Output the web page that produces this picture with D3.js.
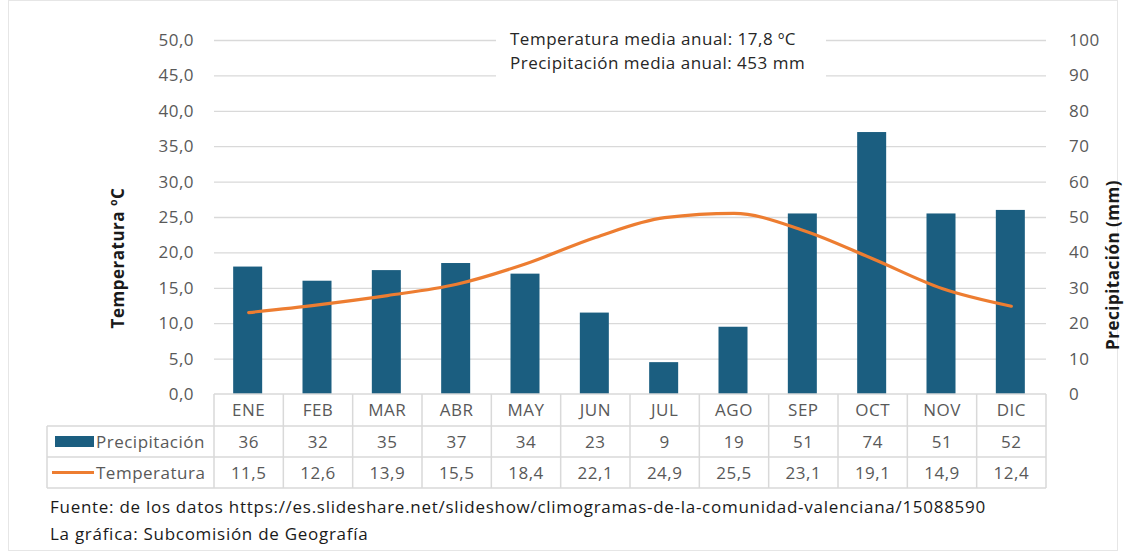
<!DOCTYPE html>
<html>
<head>
<meta charset="utf-8">
<script src="https://cdn.jsdelivr.net/npm/d3@7"></script>
<style>
  body { margin: 0; background: #fff; }
  svg text { font-family: "Open Sans", "Noto Sans", sans-serif; letter-spacing: 0.5px; }
  svg text.foot { letter-spacing: 0.72px; }
</style>
</head>
<body>
<div id="chart"></div>
<script>
var months = ['ENE', 'FEB', 'MAR', 'ABR', 'MAY', 'JUN', 'JUL', 'AGO', 'SEP', 'OCT', 'NOV', 'DIC'];
var precipitacion = [36, 32, 35, 37, 34, 23, 9, 19, 51, 74, 51, 52];
var temperatura = [11.5, 12.6, 13.9, 15.5, 18.4, 22.1, 24.9, 25.5, 23.1, 19.1, 14.9, 12.4];
var tempTicks = [0, 5, 10, 15, 20, 25, 30, 35, 40, 45, 50];
var precTicks = [0, 10, 20, 30, 40, 50, 60, 70, 80, 90, 100];
var notes = ['Temperatura media anual: 17,8 ºC', 'Precipitación media anual: 453 mm'];
var footer = ['Fuente: de los datos https://es.slideshare.net/slideshow/climogramas-de-la-comunidad-valenciana/15088590',
              'La gráfica: Subcomisión de Geografía'];

var width = 1126, height = 551;
var margin = { top: 40, left: 214, right: 1046, bottom: 394 };
var fs = 17;

var svg = d3.select('#chart').append('svg')
        .attr('width', width)
        .attr('height', height);

// outer frame
svg.append('rect')
        .attr('x', 8.5).attr('y', 0.5)
        .attr('width', width - 17).attr('height', height - 1)
        .attr('fill', 'none').attr('stroke', '#e6e6e6');

var x = d3.scaleBand().domain(months).range([margin.left, margin.right]);
var yT = d3.scaleLinear().domain([0, 50]).range([margin.bottom, margin.top]);
var yP = d3.scaleLinear().domain([0, 100]).range([margin.bottom, margin.top]);

// gridlines
svg.append('g')
        .attr('class', 'grid')
        .attr('transform', 'translate(' + margin.left + ',0)')
        .call(d3.axisLeft(yT).tickValues(tempTicks.slice(1))
                .tickSize(-(margin.right - margin.left))
                .tickFormat(''))
        .call(function (g) {
                g.select('.domain').remove();
                g.selectAll('line').attr('stroke', '#d9d9d9').attr('stroke-width', 1.3);
        });

// left axis labels
svg.append('g')
        .attr('transform', 'translate(' + (margin.left - 17) + ',0)')
        .call(d3.axisLeft(yT).tickValues(tempTicks).tickSize(0)
                .tickFormat(function (d) { return d.toFixed(1).replace('.', ','); }))
        .call(function (g) {
                g.select('.domain').remove();
                g.selectAll('text').attr('fill', '#595959').attr('font-size', fs)
                        .attr('font-family', '"Open Sans", sans-serif');
        });

// right axis labels
svg.append('g')
        .attr('transform', 'translate(' + (margin.right + 20) + ',0)')
        .call(d3.axisRight(yP).tickValues(precTicks).tickSize(0))
        .call(function (g) {
                g.select('.domain').remove();
                g.selectAll('text').attr('fill', '#595959').attr('font-size', fs)
                        .attr('font-family', '"Open Sans", sans-serif');
        });

// axis titles
svg.append('text')
        .attr('transform', 'translate(124,258) rotate(-90)')
        .attr('text-anchor', 'middle')
        .attr('font-size', fs).attr('font-weight', 'bold').attr('fill', '#1a1a1a')
        .text('Temperatura ºC');
svg.append('text')
        .attr('transform', 'translate(1119,265) rotate(-90)')
        .attr('text-anchor', 'middle')
        .attr('font-size', fs).attr('font-weight', 'bold').attr('fill', '#1a1a1a')
        .text('Precipitación (mm)');

// annotation box
svg.append('rect')
        .attr('x', 496).attr('y', 24).attr('width', 330).attr('height', 58)
        .attr('fill', '#fff');
svg.selectAll('.note').data(notes).enter().append('text')
        .attr('class', 'note')
        .attr('x', 510).attr('y', function (d, i) { return 45 + i * 24; })
        .attr('font-size', fs).attr('fill', '#262626')
        .text(function (d) { return d; });

// bars
var barW = 29;
svg.selectAll('.bar').data(precipitacion).enter().append('rect')
        .attr('class', 'bar')
        .attr('x', function (d, i) { return x(months[i]) + x.bandwidth() / 2 - barW / 2 - 1; })
        .attr('y', function (d) { return yP(d); })
        .attr('width', barW)
        .attr('height', function (d) { return margin.bottom - yP(d); })
        .attr('fill', '#1b5e80');

// temperature line
var line = d3.line()
        .x(function (d, i) { return x(months[i]) + x.bandwidth() / 2; })
        .y(function (d) { return yT(d); })
        .curve(d3.curveMonotoneX);
svg.append('path')
        .datum(temperatura)
        .attr('fill', 'none')
        .attr('stroke', '#ed7d31')
        .attr('stroke-width', 3.2)
        .attr('stroke-linecap', 'round')
        .attr('d', line);

// data table
var tbl = svg.append('g').attr('class', 'table');
var gridColor = '#d9d9d9';
var top0 = margin.bottom, legendLeft = 47;
var rows = [top0, top0 + 32, top0 + 63, top0 + 94];

// horizontal lines
tbl.append('line').attr('x1', margin.left).attr('x2', margin.right)
        .attr('y1', rows[0]).attr('y2', rows[0]);
[1, 2, 3].forEach(function (r) {
        tbl.append('line').attr('x1', legendLeft).attr('x2', margin.right)
                .attr('y1', rows[r]).attr('y2', rows[r]);
});
// vertical lines
tbl.append('line').attr('x1', legendLeft).attr('x2', legendLeft)
        .attr('y1', rows[1]).attr('y2', rows[3]);
months.concat(['end']).forEach(function (m, i) {
        var xv = i < 12 ? x(m) : margin.right;
        tbl.append('line').attr('x1', xv).attr('x2', xv)
                .attr('y1', rows[0]).attr('y2', rows[3]);
});
tbl.selectAll('line').attr('stroke', gridColor).attr('stroke-width', 1.5);

function rowText(values, r, fmt) {
        tbl.selectAll('.r' + r).data(values).enter().append('text')
                .attr('x', function (d, i) { return x(months[i]) + x.bandwidth() / 2; })
                .attr('y', (rows[r] + rows[r + 1]) / 2 + 6)
                .attr('text-anchor', 'middle')
                .attr('font-size', fs).attr('fill', '#595959')
                .text(fmt);
}
rowText(months, 0, function (d) { return d; });
rowText(precipitacion, 1, function (d) { return d; });
rowText(temperatura, 2, function (d) { return d.toFixed(1).replace('.', ','); });

// legend keys in the table
tbl.append('rect').attr('x', 55).attr('y', (rows[1] + rows[2]) / 2 - 5.5)
        .attr('width', 39).attr('height', 11).attr('fill', '#1b5e80');
tbl.append('line').attr('x1', 52).attr('x2', 94)
        .attr('y1', (rows[2] + rows[3]) / 2).attr('y2', (rows[2] + rows[3]) / 2)
        .attr('stroke', '#ed7d31').attr('stroke-width', 3);
tbl.append('text').attr('x', 96).attr('y', (rows[1] + rows[2]) / 2 + 6)
        .attr('font-size', fs).attr('fill', '#595959').text('Precipitación');
tbl.append('text').attr('x', 96).attr('y', (rows[2] + rows[3]) / 2 + 6)
        .attr('font-size', fs).attr('fill', '#595959').text('Temperatura');

// footer
svg.selectAll('.foot').data(footer).enter().append('text')
        .attr('class', 'foot')
        .attr('x', 50).attr('y', function (d, i) { return 513 + i * 27; })
        .attr('font-size', fs).attr('fill', '#1a1a1a')
        .text(function (d) { return d; });
</script>
</body>
</html>
